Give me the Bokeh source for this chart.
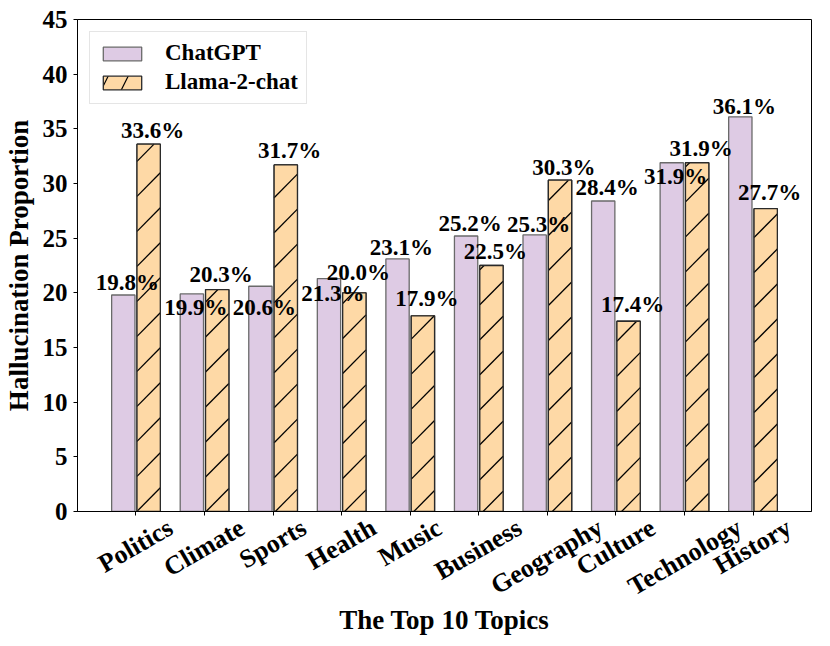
import numpy as np
from math import pi, cos
from bokeh.plotting import figure
from bokeh.models import (Range1d, FixedTicker, Legend, LegendItem, LinearAxis,
                          ColumnDataSource)
from bokeh.embed import file_html
from bokeh.resources import INLINE

# ---------------- data ----------------
topics = ["Politics", "Climate", "Sports", "Health", "Music",
          "Business", "Geography", "Culture", "Technology", "History"]
chatgpt = [19.8, 19.9, 20.6, 21.3, 23.1, 25.2, 25.3, 28.4, 31.9, 36.1]
llama = [33.6, 20.3, 31.7, 20.0, 17.9, 22.5, 30.3, 17.4, 31.9, 27.7]
series_names = ["ChatGPT", "Llama-2-chat"]
y_ticks = [0, 5, 10, 15, 20, 25, 30, 35, 40, 45]
x_title = "The Top 10 Topics"
y_title = "Hallucination Proportion"

# ---------------- style ----------------
FONT = "Liberation Serif"
W, H = 814, 640
BL, BR, BT, BB = 69, 3, 19, 129
XMIN, XMAX = -0.853, 9.853
YMAX = 45
BAR_W = 0.34
BAR_OFF = 0.185
C_GPT = "#decbe4"
C_LLAMA = "#fed9a6"
# label centre offset from bar top, in px (positive = downwards)
gpt_dy = [-13, 14, 21, 15, -11, -12, -10, -13, 14, -10.5]
llama_dy = [-13.5, -15, -14.5, -20, -17, -14, -13, -17, -14, -16]
LBL_DX = 4
FS = 25
FSX = 26
HATCH_SP = 35      # px between hatch lines (vertical)
HATCH_PHASE = 10

frame_w = W - BL - BR
frame_h = H - BT - BB
ppx = frame_w / (XMAX - XMIN)
ppy = frame_h / YMAX

p = figure(width=W, height=H, x_range=Range1d(XMIN, XMAX), y_range=Range1d(0, YMAX),
           output_backend="svg", toolbar_location=None,
           min_border_left=BL, min_border_right=BR, min_border_top=BT, min_border_bottom=BB)
p.xgrid.visible = False
p.ygrid.visible = False
p.outline_line_color = "black"
p.outline_line_width = 1
p.background_fill_color = "white"
p.border_fill_color = "white"

idx = np.arange(len(topics))
src = ColumnDataSource(dict(
    xg=idx - BAR_OFF, xl=idx + BAR_OFF, gpt=chatgpt, llama=llama))

r1 = p.vbar(x="xg", top="gpt", width=BAR_W, source=src, fill_color=C_GPT,
            line_color="#6a6a6a", line_width=1.3)
# Llama bars (hatched glyph used for the legend swatch)
r2 = p.vbar(x="xl", top="llama", width=BAR_W, source=src, fill_color=C_LLAMA,
            line_color="#2a2a2a", line_width=1.3,
            hatch_pattern="/", hatch_color="black", hatch_weight=1.2, hatch_scale=40)
# plain fill over it, then a 45-degree hatch derived from the bar extents
p.vbar(x="xl", top="llama", width=BAR_W, source=src, fill_color=C_LLAMA, line_color=None)

hx0, hy0, hx1, hy1 = [], [], [], []
for i, v in zip(idx, llama):
    u0 = (i + BAR_OFF - BAR_W / 2 - XMIN) * ppx
    u1 = (i + BAR_OFF + BAR_W / 2 - XMIN) * ppx
    wt = v * ppy
    kmin = int(np.floor((-u1 - HATCH_PHASE) / HATCH_SP)) - 1
    kmax = int(np.ceil((wt - u0 - HATCH_PHASE) / HATCH_SP)) + 1
    for k in range(kmin, kmax + 1):
        c = k * HATCH_SP + HATCH_PHASE
        us = max(u0, -c)
        ue = min(u1, wt - c)
        if ue - us > 0.5:
            hx0.append(us / ppx + XMIN); hy0.append((us + c) / ppy)
            hx1.append(ue / ppx + XMIN); hy1.append((ue + c) / ppy)
p.segment(x0=hx0, y0=hy0, x1=hx1, y1=hy1, line_color="black", line_width=1.3)
# outlines on top of the hatch
p.vbar(x="xl", top="llama", width=BAR_W, source=src, fill_color=None,
       line_color="#2a2a2a", line_width=1.3)

# value labels
lab_src = ColumnDataSource(dict(
    x=list(idx - BAR_OFF + LBL_DX / ppx) + list(idx + BAR_OFF + LBL_DX / ppx),
    y=[v - d / ppy for v, d in zip(chatgpt, gpt_dy)] + [v - d / ppy for v, d in zip(llama, llama_dy)],
    t=[f"{v:.1f}%" for v in chatgpt] + [f"{v:.1f}%" for v in llama]))
p.text(x="x", y="y", text="t", source=lab_src, text_align="center", text_baseline="middle",
       text_font={"value": FONT}, text_font_style="bold", text_font_size="23px", text_color="black")


def style_axis(ax, fs):
    ax.axis_line_color = "black"
    ax.major_tick_line_color = "black"
    ax.major_tick_out = 4
    ax.major_tick_in = 0
    ax.minor_tick_line_color = None
    ax.major_label_text_font = FONT
    ax.major_label_text_font_style = "bold"
    ax.major_label_text_font_size = f"{fs}px"
    ax.major_label_text_color = "black"
    ax.axis_label_text_font = FONT
    ax.axis_label_text_font_style = "bold"
    ax.axis_label_text_font_size = "27px"
    ax.axis_label_text_color = "black"


style_axis(p.xaxis[0], FS)
style_axis(p.yaxis[0], FS)

p.yaxis.ticker = FixedTicker(ticks=y_ticks)
p.yaxis.major_label_standoff = 6
p.yaxis.axis_label = y_title
p.yaxis.axis_label_standoff = 6

# tick marks at the category centres, no labels
p.xaxis.ticker = FixedTicker(ticks=list(idx))
p.xaxis.major_label_overrides = {int(i): "" for i in idx}
p.xaxis.major_label_standoff = 0

# rotated category labels, centred on the tick (right end shifted along the text direction)
CW = {'P': 611, 'o': 500, 'l': 278, 'i': 278, 't': 333, 'c': 444, 's': 389, 'C': 722,
      'm': 833, 'a': 500, 'e': 444, 'S': 556, 'p': 556, 'r': 444, 'H': 778, 'h': 556,
      'M': 944, 'u': 556, 'B': 667, 'n': 556, 'G': 778, 'g': 500, 'y': 500, 'T': 667}
lab_ticks = []
lab_over = {}
for i, name in enumerate(topics):
    L = sum(CW.get(ch, 500) for ch in name) / 1000 * FSX
    t = float(i) + round(0.5 * L * cos(pi / 6) / ppx, 4)
    lab_ticks.append(t)
    lab_over[t] = name
lab_axis = LinearAxis(ticker=FixedTicker(ticks=lab_ticks), major_label_overrides=lab_over)
style_axis(lab_axis, FSX)
lab_axis.axis_line_color = None
lab_axis.major_tick_line_color = None
lab_axis.major_tick_out = 0
lab_axis.major_label_orientation = pi / 6
lab_axis.major_label_standoff = 10
lab_axis.axis_label = x_title
lab_axis.axis_label_standoff = -12
p.add_layout(lab_axis, "below")

legend = Legend(items=[LegendItem(label=series_names[0], renderers=[r1]),
                       LegendItem(label=series_names[1], renderers=[r2])],
                location="top_left")
legend.margin = 12
legend.padding = 8
legend.spacing = 3
legend.glyph_width = 48
legend.glyph_height = 17
legend.label_standoff = 19
legend.label_text_font = FONT
legend.label_text_font_style = "bold"
legend.label_text_font_size = "23px"
legend.label_text_color = "black"
legend.border_line_color = "#cccccc"
legend.border_line_width = 1
legend.background_fill_color = "white"
legend.background_fill_alpha = 0.8
p.add_layout(legend)

open("out.html", "w").write(file_html(p, INLINE))
